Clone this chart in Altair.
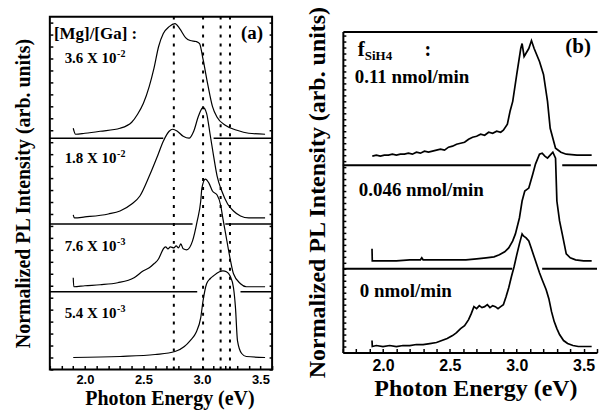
import altair as alt
import pandas as pd

# ---------------- shared ----------------
X_DOMAIN = [1.7, 3.6]
X_LABEL_TICKS = [2.0, 2.5, 3.0, 3.5]
X_MINOR_TICKS = [1.7, 1.8, 1.9, 2.0, 2.1, 2.2, 2.3, 2.4, 2.5, 2.6, 2.7, 2.8,
                 2.9, 3.0, 3.1, 3.2, 3.3, 3.4, 3.5, 3.6]
X_TITLE = "Photon Energy (eV)"
Y_TITLE = "Normalized PL Intensity (arb. units)"

# ---------------- panel (a): [Mg]/[Ga] ----------------
A_SERIES = ["3.6 X 10-2", "1.8 X 10-2", "7.6 X 10-3", "5.4 X 10-3"]
A_OFFSET = [236, 151, 83, 12]

A1_E = [1.90, 1.92, 2.00, 2.13, 2.30, 2.40, 2.45, 2.50, 2.55, 2.59, 2.63, 2.67, 2.72, 2.77,
        2.81, 2.86, 2.90, 2.95, 2.98, 3.01, 3.05, 3.09, 3.13, 3.20, 3.30, 3.40, 3.54]
A1_I = [6, 0, 1, 3, 6, 12, 20, 31, 48, 66, 88, 101, 108, 111,
        106, 97, 94, 93, 91, 75, 50, 28, 17, 9, 4, 1, 0]

A2_E = [1.90, 1.91, 2.00, 2.20, 2.30, 2.40, 2.47, 2.55, 2.62, 2.67, 2.72, 2.75, 2.79, 2.84,
        2.89, 2.93, 2.97, 3.01, 3.04, 3.07, 3.10, 3.13, 3.17, 3.22, 3.27, 3.33, 3.40, 3.54]
A2_I = [4, 1, 2, 5, 8, 15, 23, 43, 63, 78, 88, 90, 88, 83,
        81, 88, 103, 112, 106, 85, 63, 43, 28, 15, 8, 3, 1, 1]

A3_E = [1.900, 1.905, 2.00, 2.13, 2.28, 2.42, 2.50, 2.55, 2.59, 2.63, 2.65, 2.67, 2.69,
        2.71, 2.73, 2.76, 2.78, 2.80, 2.82, 2.84, 2.87, 2.92, 2.96, 2.99, 3.00, 3.03,
        3.06, 3.09, 3.13, 3.16, 3.18, 3.20, 3.24, 3.27, 3.33, 3.38, 3.54]
A3_I = [9, 0, 1, 2, 4, 9, 16, 19, 23, 28, 33, 38, 40,
        38, 40, 39, 41, 39, 43, 38, 37, 46, 66, 86, 99, 108,
        104, 96, 92, 82, 68, 55, 29, 13, 3, 0, 0]

A4_E = [1.90, 2.30, 2.60, 2.77, 2.85, 2.90, 2.95, 2.99, 3.01, 3.04, 3.07, 3.10, 3.15,
        3.18, 3.21, 3.24, 3.27, 3.287, 3.304, 3.34, 3.38, 3.54]
A4_I = [0, 1, 3, 6, 11, 17, 25, 40, 57, 74, 79, 82, 86,
        87, 86, 82, 70, 50, 17, 4, 1, 0]

A_DOTTED = [2.76, 3.01, 3.16, 3.24]
A_HLINE_Y = [232, 232, 146, 146, 78, 78]
A_HLINE_X1 = [1.70, 3.10, 1.70, 3.20, 1.70, 3.33]
A_HLINE_X2 = [2.67, 3.60, 2.92, 3.60, 2.96, 3.60]

A_LAB_R_TEXT = ["3.6 X 10", "1.8 X 10", "7.6 X 10", "5.4 X 10", "(a)"]
A_LAB_R_X = [2.27, 2.27, 2.27, 2.27, 3.523]
A_LAB_R_Y = [307, 207, 119, 52, 332]
A_LAB_R_S = [15, 15, 15, 15, 19]
A_LAB_L_TEXT = ["[Mg]/[Ga] :", "-2", "-2", "-3", "-3"]
A_LAB_L_X = [1.735, 2.275, 2.275, 2.275, 2.275]
A_LAB_L_Y = [332, 313, 213, 125, 58]
A_LAB_L_S = [17, 10, 10, 10, 10]

# ---------------- panel (b): f_SiH4 ----------------
B_SERIES = ["0.11 nmol/min", "0.046 nmol/min", "0 nmol/min"]
B_OFFSET = [197, 92, 6]

B1_E = [1.92, 1.95, 1.98, 2.01, 2.04, 2.07, 2.10, 2.13, 2.16, 2.19,
        2.22, 2.25, 2.28, 2.31, 2.34, 2.37, 2.40, 2.43, 2.46, 2.49,
        2.52, 2.55, 2.58, 2.61, 2.64, 2.67, 2.70, 2.73, 2.76, 2.79,
        2.82, 2.85, 2.88, 2.90, 2.93, 2.95, 2.97, 3.00, 3.03, 3.04,
        3.055, 3.09, 3.11, 3.13, 3.17, 3.20, 3.23, 3.25, 3.29, 3.33,
        3.37, 3.45, 3.56]
B1_I = [0, 1, 0, 1, 1, 2, 1, 2, 2, 3,
        2, 4, 3, 5, 4, 5, 6, 7, 6, 9,
        10, 12, 13, 14, 17, 19, 20, 22, 21, 24,
        23, 25, 24, 26, 32, 45, 55, 82, 108, 113,
        100, 108, 116, 108, 95, 82, 55, 28, 8, 4,
        2, 1, 1]

B2_E = [1.918, 1.920, 2.00, 2.10, 2.20, 2.28, 2.29, 2.30, 2.40, 2.50,
        2.62, 2.70, 2.77, 2.83, 2.87, 2.91, 2.94, 2.97, 2.99, 3.02,
        3.04, 3.06, 3.09, 3.12, 3.14, 3.17, 3.19, 3.21, 3.23, 3.25,
        3.27, 3.29, 3.30, 3.32, 3.34, 3.37, 3.40, 3.44, 3.50, 3.56]
B2_I = [12, 0, 0, 0, 1, 1, 3, 1, 1, 1,
        1, 2, 3, 4, 6, 9, 13, 20, 27, 43,
        60, 70, 73, 87, 97, 107, 108, 105, 103, 106,
        109, 103, 60, 40, 27, 7, 3, 1, 0, 0]

B3_E = [1.918, 1.920, 1.95, 2.00, 2.05, 2.10, 2.15, 2.20, 2.25, 2.30,
        2.35, 2.40, 2.44, 2.48, 2.52, 2.55, 2.58, 2.61, 2.64, 2.66,
        2.68, 2.70, 2.72, 2.74, 2.76, 2.78, 2.80, 2.82, 2.84, 2.86,
        2.88, 2.90, 2.92, 2.94, 2.96, 2.98, 3.00, 3.02, 3.04, 3.05,
        3.07, 3.09, 3.11, 3.13, 3.15, 3.17, 3.19, 3.22, 3.24, 3.26,
        3.28, 3.30, 3.32, 3.35, 3.38, 3.42, 3.46, 3.50, 3.56]
B3_I = [6, 0, 1, 0, 1, 0, 1, 1, 2, 2,
        3, 4, 6, 8, 11, 14, 18, 21, 27, 33,
        40, 38, 41, 39, 40, 42, 39, 41, 40, 38,
        40, 42, 50, 59, 70, 80, 92, 103, 113, 111,
        109, 106, 98, 90, 82, 74, 67, 57, 48, 35,
        25, 18, 12, 6, 3, 1, 0, 0, 0]

B_HLINE_Y = [188, 188, 84, 84]
B_HLINE_X1 = [1.70, 3.34, 1.70, 3.19]
B_HLINE_X2 = [3.105, 3.60, 2.966, 3.60]

B_LAB_L_TEXT = ["f", "SiH4", ":", "0.11 nmol/min", "0.046 nmol/min", "0 nmol/min"]
B_LAB_L_X = [1.812, 1.864, 2.31, 1.789, 1.819, 1.827]
B_LAB_L_Y = [297, 293, 297, 270, 157, 56]
B_LAB_L_S = [21, 13, 20, 19, 19, 19]
B_LAB_R_TEXT = ["(b)"]
B_LAB_R_X = [3.554]
B_LAB_R_Y = [301]
B_LAB_R_S = [21]

# ---------------- layout constants ----------------
W_A, H_A = 223, 354
W_B, H_B = 255, 322          # frame of panel (b)
B_TOP, B_BOTTOM_GAP = 15, 17  # panel (b) frame sits inside a 354-high cell
SERIF = "Liberation Serif"
SANS = "Liberation Sans"


def curves_df(names, offsets, es, ins):
    rows = []
    for n, off, E, I in zip(names, offsets, es, ins):
        for k, (e, i) in enumerate(zip(E, I)):
            rows.append({"series": n, "E": e, "y": i + off, "o": k})
    return pd.DataFrame(rows)


def text_df(t, x, y, s):
    return pd.DataFrame({"t": t, "x": x, "y": y, "s": s})


def tick_axis(orient, offset, values, size):
    return alt.Axis(orient=orient, offset=offset, values=values, labels=False,
                    domain=False, ticks=True, tickSize=size, tickWidth=1.5,
                    tickColor="black", title=None, grid=False)


def x_main_axis(lab_size, lab_pad, title_size, title_pad, title_x, domain, offset):
    return alt.Axis(orient="bottom", offset=offset, values=X_LABEL_TICKS, format=".1f",
                    ticks=False, domain=domain, domainColor="black", domainWidth=2,
                    labelFont=SANS, labelFontWeight="bold", labelFontSize=lab_size,
                    labelPadding=lab_pad, labelColor="black",
                    title=X_TITLE, titleFont=SERIF, titleFontWeight="bold",
                    titleFontSize=title_size, titleColor="black", titlePadding=title_pad,
                    titleX=title_x, grid=False)


def y_title_axis(title_size, title_pad, domain):
    return alt.Axis(orient="left", labels=False, ticks=False, domain=domain,
                    domainColor="black", domainWidth=2,
                    title=Y_TITLE, titleFont=SERIF, titleFontWeight="bold",
                    titleFontSize=title_size, titleColor="black",
                    titlePadding=title_pad, grid=False)


# ================= panel (a) =================
xsA = alt.Scale(domain=X_DOMAIN, nice=False, zero=False)
ysA = alt.Scale(domain=[0, H_A], nice=False, zero=False)
Y_TICKS_A = list(range(0, H_A + 1, 12))

curvesA = curves_df(A_SERIES, A_OFFSET, [A1_E, A2_E, A3_E, A4_E], [A1_I, A2_I, A3_I, A4_I])
hlinesA = pd.DataFrame({"x1": A_HLINE_X1, "x2": A_HLINE_X2, "y": A_HLINE_Y})
dotsA = pd.DataFrame({"E": A_DOTTED})

hA = alt.Chart(hlinesA).mark_rule(color="black", strokeWidth=1.5).encode(
    x=alt.X("x1:Q", scale=xsA, axis=x_main_axis(13, 4, 20, 2, 120, False, 0)),
    x2="x2:Q",
    y=alt.Y("y:Q", scale=ysA, axis=y_title_axis(20, 16, False)),
)
cA = alt.Chart(curvesA).mark_line(color="black", strokeWidth=1.2, interpolate="monotone").encode(
    x=alt.X("E:Q", scale=xsA, axis=tick_axis("top", -H_A, X_MINOR_TICKS, 4)),
    y=alt.Y("y:Q", scale=ysA, axis=tick_axis("right", -W_A, Y_TICKS_A, 3)),
    detail="series:N",
    order="o:Q",
)
dA = alt.Chart(dotsA).mark_rule(color="black", strokeWidth=2, strokeDash=[3, 6]).encode(
    x=alt.X("E:Q", scale=xsA, axis=None),
)
tAr = alt.Chart(text_df(A_LAB_R_TEXT, A_LAB_R_X, A_LAB_R_Y, A_LAB_R_S)).mark_text(
    align="right", baseline="alphabetic", font=SERIF, fontWeight="bold", color="black"
).encode(
    x=alt.X("x:Q", scale=xsA, axis=None),
    y=alt.Y("y:Q", scale=ysA, axis=tick_axis("left", -W_A, Y_TICKS_A, 3)),
    text="t:N",
    size=alt.Size("s:Q", scale=None),
)
tAl = alt.Chart(text_df(A_LAB_L_TEXT, A_LAB_L_X, A_LAB_L_Y, A_LAB_L_S)).mark_text(
    align="left", baseline="alphabetic", font=SERIF, fontWeight="bold", color="black"
).encode(
    x=alt.X("x:Q", scale=xsA, axis=None),
    y=alt.Y("y:Q", scale=ysA, axis=None),
    text="t:N",
    size=alt.Size("s:Q", scale=None),
)

chartA = alt.layer(hA, cA, dA, tAr, tAl).properties(
    width=W_A, height=H_A,
    view=alt.ViewBackground(stroke="black", strokeWidth=2),
).resolve_axis(x="independent", y="independent")

# ================= panel (b) =================
xsB = alt.Scale(domain=X_DOMAIN, nice=False, zero=False)
ysB = alt.Scale(domain=[0, H_B], range=[B_TOP + H_B, B_TOP], nice=False, zero=False)
Y_TICKS_B = list(range(0, H_B + 1, 6))

curvesB = curves_df(B_SERIES, B_OFFSET, [B1_E, B2_E, B3_E], [B1_I, B2_I, B3_I])
hlinesB = pd.DataFrame({"x1": B_HLINE_X1, "x2": B_HLINE_X2, "y": B_HLINE_Y})

hB = alt.Chart(hlinesB).mark_rule(color="black", strokeWidth=2).encode(
    x=alt.X("x1:Q", scale=xsB,
            axis=x_main_axis(16, 5, 24, 3, 133, True, -B_BOTTOM_GAP)),
    x2="x2:Q",
    y=alt.Y("y:Q", scale=ysB, axis=y_title_axis(24, 13, True)),
)
cB = alt.Chart(curvesB).mark_line(color="black", strokeWidth=1.7).encode(
    x=alt.X("E:Q", scale=xsB, axis=tick_axis("top", -(B_TOP + H_B), X_MINOR_TICKS, 4)),
    y=alt.Y("y:Q", scale=ysB, axis=tick_axis("right", -W_B, Y_TICKS_B, 3)),
    detail="series:N",
    order="o:Q",
)
tBl = alt.Chart(text_df(B_LAB_L_TEXT, B_LAB_L_X, B_LAB_L_Y, B_LAB_L_S)).mark_text(
    align="left", baseline="alphabetic", font=SERIF, fontWeight="bold", color="black"
).encode(
    x=alt.X("x:Q", scale=xsB, axis=alt.Axis(orient="top", offset=-B_TOP, labels=False,
                                             ticks=False, domain=True, domainColor="black",
                                             domainWidth=2, title=None, grid=False)),
    y=alt.Y("y:Q", scale=ysB, axis=None),
    text="t:N",
    size=alt.Size("s:Q", scale=None),
)
tBr = alt.Chart(text_df(B_LAB_R_TEXT, B_LAB_R_X, B_LAB_R_Y, B_LAB_R_S)).mark_text(
    align="right", baseline="alphabetic", font=SERIF, fontWeight="bold", color="black"
).encode(
    x=alt.X("x:Q", scale=xsB, axis=None),
    y=alt.Y("y:Q", scale=ysB, axis=None),
    text="t:N",
    size=alt.Size("s:Q", scale=None),
)

chartB = alt.layer(hB, cB, tBl, tBr).properties(
    width=W_B, height=H_A,
    view=alt.ViewBackground(stroke="transparent"),
).resolve_axis(x="independent", y="independent")

chart = alt.hconcat(chartA, chartB, spacing=71, bounds="flush").properties(
    padding={"left": 13, "top": 4, "right": 0, "bottom": 0},
    background="white",
)

chart.save("out.html", embed_options={"renderer": "svg", "actions": False})
